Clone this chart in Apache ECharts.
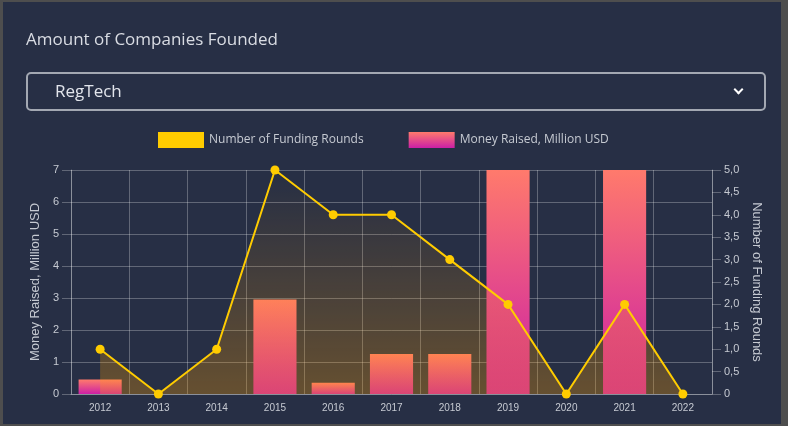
<!DOCTYPE html>
<html>
<head>
<meta charset="utf-8">
<script src="https://cdn.jsdelivr.net/npm/echarts@6/dist/echarts.min.js"></script>
<style>
  html, body { margin: 0; padding: 0; background: #4e4e4e; }
  .card {
    position: absolute; left: 3px; top: 2px; width: 778px; height: 422px;
    background: #272f45; overflow: hidden;
  }
  .title {
    position: absolute; left: 23px; top: 25px;
    font-family: "Open Sans", sans-serif; font-size: 17px; color: #d9dce3;
  }
  .select {
    position: absolute; left: 23px; top: 70px; width: 736px; height: 35px;
    border: 2px solid #a3a8b2; border-radius: 5px;
  }
  .select span {
    position: absolute; left: 27px; top: 5px;
    font-family: "Open Sans", sans-serif; font-size: 17px; color: #e2e5ec;
  }
  .select i {
    position: absolute; right: 22px; top: 12px; width: 5px; height: 5px;
    border-right: 2px solid #fff; border-bottom: 2px solid #fff; transform: rotate(45deg);
  }
  #chart { position: absolute; left: -3px; top: -2px; width: 788px; height: 426px; }
</style>
</head>
<body>
<div class="card">
  <div id="chart"></div>
  <div class="title">Amount of Companies Founded</div>
  <div class="select"><span>RegTech</span><i></i></div>
</div>
<script type="text/javascript">
var years = ['2012', '2013', '2014', '2015', '2016', '2017', '2018', '2019', '2020', '2021', '2022'];
// millions USD, 2019 and 2021 run off the top of the axis
var moneyRaised = [0.45, 0, 0, 2.95, 0.35, 1.25, 1.25, 10, 0, 8.5, 0];
var fundingRounds = [1, 0, 1, 5, 4, 4, 3, 2, 0, 2, 0];

var labelColor = '#c6cad2';
var gridColor = 'rgba(255,255,255,0.27)';

var barGradient = new echarts.graphic.LinearGradient(0, 0, 0, 1, [
  {offset: 0, color: '#ff7a6c'},
  {offset: 1, color: '#cc1fa6'}
]);

var chart = echarts.init(document.getElementById('chart'));

chart.setOption({
  animation: false,
  legend: {
    left: 153,
    top: 127,
    itemWidth: 46,
    itemHeight: 16,
    itemGap: 45,
    textStyle: {color: labelColor, fontSize: 12, fontFamily: 'Open Sans'},
    data: [
      {name: 'Number of Funding Rounds', icon: 'rect', itemStyle: {color: '#ffcc00'}},
      {name: 'Money Raised, Million USD', icon: 'rect'}
    ]
  },
  grid: {left: 71, right: 76, top: 170, bottom: 32},
  xAxis: {
    type: 'category',
    data: years,
    axisLine: {lineStyle: {color: gridColor}},
    axisTick: {length: 7, lineStyle: {color: gridColor}},
    axisLabel: {color: labelColor, fontSize: 10, margin: 9, fontFamily: 'Liberation Sans'},
    splitLine: {show: true, lineStyle: {color: gridColor}}
  },
  yAxis: [{
    type: 'value',
    min: 0, max: 7, interval: 1,
    name: 'Money Raised, Million USD',
    nameLocation: 'middle',
    nameRotate: 90,
    nameGap: 27,
    nameTextStyle: {color: labelColor, fontSize: 13, fontFamily: 'Liberation Sans'},
    axisLine: {show: true, lineStyle: {color: gridColor}},
    axisTick: {show: true, length: 9, lineStyle: {color: gridColor}},
    axisLabel: {color: labelColor, fontSize: 11, margin: 12, fontFamily: 'Liberation Sans'},
    splitLine: {lineStyle: {color: gridColor}}
  }, {
    type: 'value',
    min: 0, max: 5, interval: 0.5,
    name: 'Number of Funding Rounds',
    nameLocation: 'middle',
    nameRotate: -90,
    nameGap: 38,
    nameTextStyle: {color: labelColor, fontSize: 13, fontFamily: 'Liberation Sans'},
    axisLine: {show: true, lineStyle: {color: gridColor}},
    axisTick: {show: true, length: 9, lineStyle: {color: gridColor}},
    axisLabel: {
      color: labelColor, fontSize: 11, margin: 12, fontFamily: 'Liberation Sans',
      formatter: function (v) { return v === 0 ? '0' : v.toFixed(1).replace('.', ','); }
    },
    splitLine: {show: false}
  }],
  series: [{
    name: 'Money Raised, Million USD',
    type: 'bar',
    yAxisIndex: 0,
    barWidth: '74%',
    clip: true,
    itemStyle: {color: barGradient},
    data: moneyRaised
  }, {
    name: 'Number of Funding Rounds',
    type: 'line',
    yAxisIndex: 1,
    symbol: 'circle',
    symbolSize: 9,
    showAllSymbol: true,
    itemStyle: {color: '#ffcc00'},
    lineStyle: {color: '#ffcc00', width: 2},
    areaStyle: {
      color: {
        type: 'linear', x: 0, y: 170, x2: 0, y2: 394, global: true,
        colorStops: [
          {offset: 0, color: 'rgba(255,160,0,0)'},
          {offset: 1, color: 'rgba(255,160,0,0.42)'}
        ]
      }
    },
    data: fundingRounds
  }]
});
</script>
</body>
</html>
